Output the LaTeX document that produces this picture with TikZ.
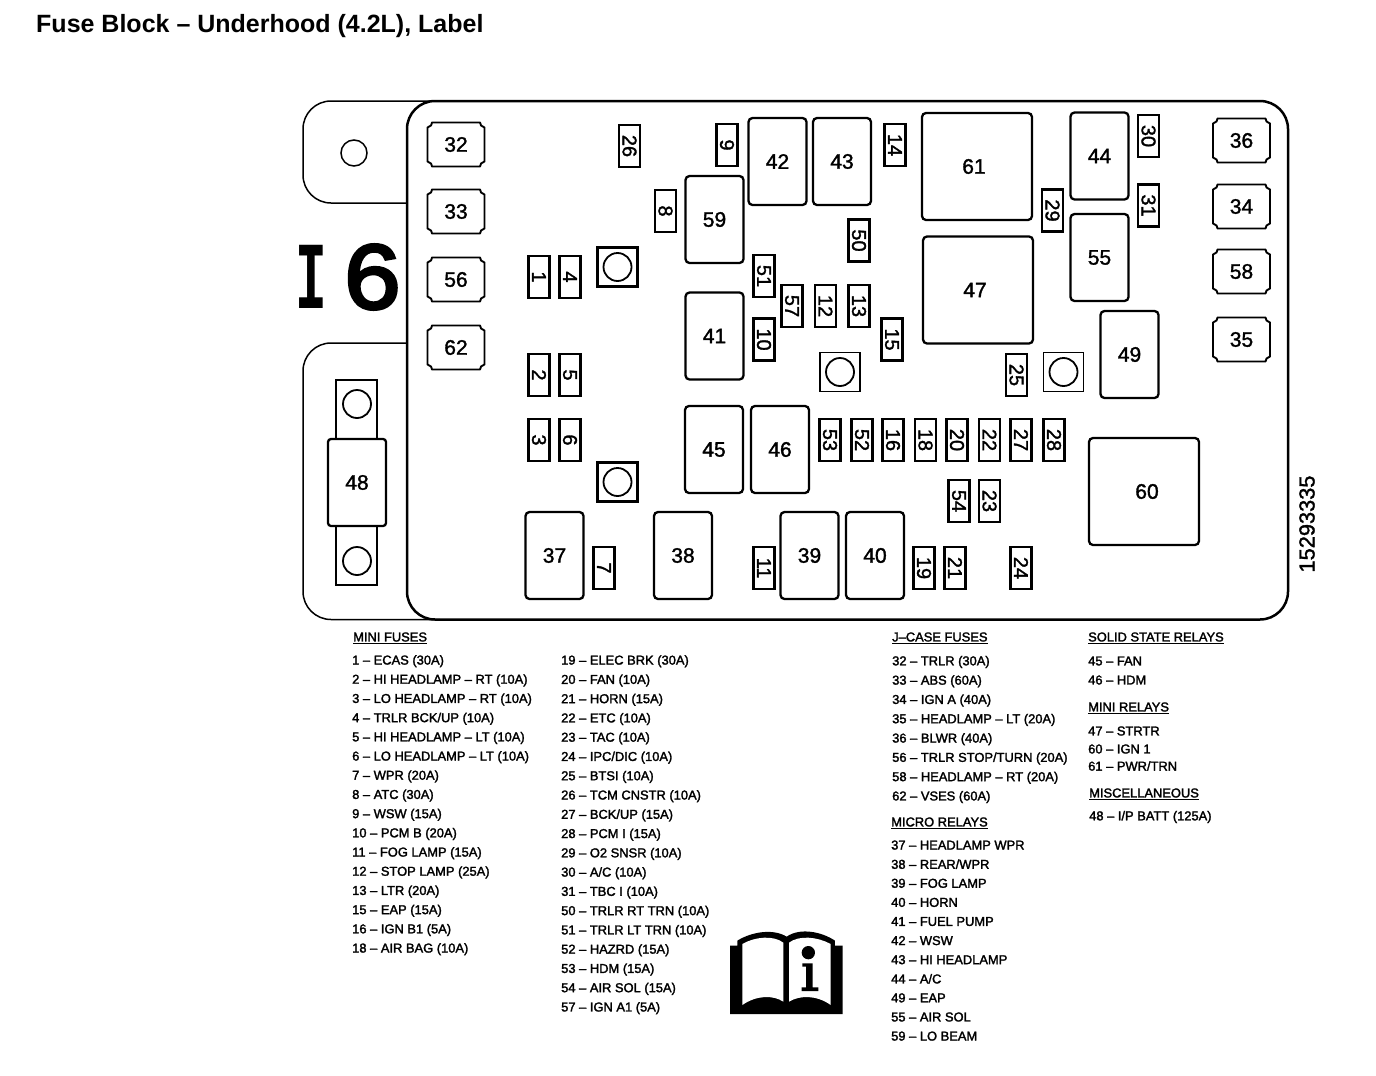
\documentclass[tikz,border=0pt]{standalone}
\usepackage{fontspec}
\usepackage{graphicx}
\setmainfont{Liberation Sans}
\newfontfamily\legendfont{Liberation Sans}[FakeBold=2]
\newfontfamily\numfont{Liberation Sans}[FakeBold=1.5]
\newfontfamily\bigfont{Liberation Mono}[FakeBold=3]
\newfontfamily\bigserif{Liberation Mono Bold}
\tikzset{
    fusebox/.style={draw, line width=2.3pt, minimum width=21pt, minimum height=42pt, inner sep=0pt, font=\fontsize{20}{20}\numfont},
    relaybox/.style={draw, line width=2.3pt, rounded corners=4pt, minimum width=58pt, minimum height=87pt, inner sep=0pt, font=\fontsize{21}{21}\numfont},
    bigrelay/.style={relaybox, minimum width=110pt, minimum height=107pt},
    jcasebox/.style={inner sep=0pt, font=\fontsize{21}{21}\numfont},
    mountbox/.style={draw, line width=3pt, minimum width=40pt, minimum height=39pt, inner sep=0pt},
    holecircle/.style={draw, circle, line width=1.8pt, minimum size=28pt, inner sep=0pt},
    legendtext/.style={anchor=west, inner sep=0pt, font=\fontsize{12.9}{12.9}\legendfont},
}
\begin{document}
\begin{tikzpicture}[x=1pt, y=-1pt]
    \useasboundingbox (0,0) rectangle (1376,1076);

    % Title
    \node [anchor=west, inner sep=0pt, font=\fontsize{25}{25}\selectfont\bfseries] (title) at (36,26) {Fuse Block – Underhood (4.2L), Label};

    % Tabs
    \draw [line width=1.5pt, rounded corners=28pt] (407,203) -- (303,203) -- (303,101) -- (440,101);
    \draw [line width=1.5pt, rounded corners=28pt] (407,343) -- (303,343) -- (303,619.5) -- (440,619.5);

    % Block
    \draw [line width=2.5pt, rounded corners=28pt] (407,101) rectangle (1288,619.5);
    \node [holecircle, line width=1.5pt, minimum size=26pt] (tabhole) at (354,153) {};

    % Vehicle code
    \node [inner sep=0pt, anchor=center, font=\fontsize{96}{96}\bigfont] (code) at (349,277) {\scalebox{0.55}[1]{\bigserif I}\hspace{15pt}\scalebox{1.06}[1]{6}};
    \node [rotate=90, inner sep=0pt, font=\fontsize{21.8}{21.8}\numfont] (partno) at (1307,524) {15293335};

    % Large fuse
    \node [draw, line width=2.5pt, minimum width=41pt, minimum height=205pt, inner sep=0pt] (stub) at (356.5,482.5) {};
    \node [holecircle] (holeA) at (357,404) {};
    \node [holecircle] (holeB) at (357,561) {};
    \node [fill=white, relaybox, minimum width=58pt, minimum height=87pt, rounded corners=3pt] (r48) at (357,482.5) {48};

    % J-case fuses
    \foreach \n/\x/\y in {32/456/144.5, 33/456/211.5, 56/456/279.5, 62/456/347.5, 36/1241.5/140.5, 34/1241.5/206.5, 58/1241.5/271.5, 35/1241.5/339.5} {
        \draw [line width=1.9pt, line join=round, shift={(\x,\y)}]
            (-24,-22) -- (24,-22) -- (25,-19) -- (28.5,-17) -- (28.5,17) -- (25,19) -- (24,22) -- (-24,22) -- (-25,19) -- (-28.5,17) -- (-28.5,-17) -- (-25,-19) -- cycle;
        \node [jcasebox] (j\n) at (\x,\y) {\n};
    }

    % Mini fuses
    \foreach \n/\x/\y in {1/539/277, 4/570/277, 2/539/375, 5/570/375, 3/539/440, 6/570/440, 7/604/568, 26/629.5/146, 9/727/145, 8/665.5/211, 14/895/145, 50/859/240.5, 51/764/276, 57/792/306, 12/825.5/306, 13/859/306, 10/764/339.5, 15/892/339.5, 25/1016.5/375, 53/830/440, 52/862/440, 16/893/440, 18/925.5/440, 20/957/440, 22/989.5/440, 27/1021/440, 28/1054/440, 54/959/501, 23/989.5/501, 11/764/568, 19/924/568, 21/955/568, 24/1021/568, 30/1148.5/136, 31/1148.5/205.5, 29/1052.5/210.5} {
        \node [fusebox] (f\n) at (\x,\y) {\rotatebox{-90}{\n}};
    }

    % Relays
    \foreach \n/\x/\y in {42/777.5/161.5, 43/842/161.5, 59/714.5/219.5, 41/714.5/336, 45/714/449.5, 46/780/449.5, 38/683/555.5, 39/809.5/555.5, 40/875/555.5, 37/554.5/555.5, 44/1099.5/156, 55/1099.5/257.5, 49/1129.5/354.5} {
        \node [relaybox] (r\n) at (\x,\y) {\n};
    }
    \foreach \n/\x/\y/\d in {61/977/166.5/-6, 47/978/290/-6, 60/1144/491.5/6} {
        \node [bigrelay] (r\n) at (\x,\y) {\hspace{\d pt}\n};
    }

    % Mounting points
    \foreach \m/\x/\y/\w in {a/617.5/267/3.2, b/617.5/482/3.2, c/840/372/1.9, d/1063.5/372/1.9} {
        \node [mountbox, line width=\w pt] (mount\m) at (\x,\y) {};
        \node [holecircle] (hole\m) at (\x,\y) {};
    }

    % Legend, first column
    \node [legendtext] (minihead) at (353,638) {\underline{MINI FUSES}};
    \foreach \t [count=\i] in {1 – ECAS (30A), 2 – HI HEADLAMP – RT (10A), 3 – LO HEADLAMP – RT (10A), 4 – TRLR BCK/UP (10A), 5 – HI HEADLAMP – LT (10A), 6 – LO HEADLAMP – LT (10A), 7 – WPR (20A), 8 – ATC (30A), 9 – WSW (15A), 10 – PCM B (20A), 11 – FOG LAMP (15A), 12 – STOP LAMP (25A), 13 – LTR (20A), 15 – EAP (15A), 16 – IGN B1 (5A), 18 – AIR BAG (10A)} {
        \node [legendtext] (mini\i) at (352,{642+\i*19.2}) {\t};
    }

    % Legend, second column
    \foreach \t [count=\i] in {19 – ELEC BRK (30A), 20 – FAN (10A), 21 – HORN (15A), 22 – ETC (10A), 23 – TAC (10A), 24 – IPC/DIC (10A), 25 – BTSI (10A), 26 – TCM CNSTR (10A), 27 – BCK/UP (15A), 28 – PCM I (15A), 29 – O2 SNSR (10A), 30 – A/C (10A), 31 – TBC I (10A), 50 – TRLR RT TRN (10A), 51 – TRLR LT TRN (10A), 52 – HAZRD (15A), 53 – HDM (15A), 54 – AIR SOL (15A), 57 – IGN A1 (5A)} {
        \node [legendtext] (more\i) at (561,{642+\i*19.27}) {\t};
    }

    % Legend, third column
    \node [legendtext] (jcasehead) at (892,638) {\underline{J–CASE FUSES}};
    \foreach \t [count=\i] in {32 – TRLR (30A), 33 – ABS (60A), 34 – IGN A (40A), 35 – HEADLAMP – LT (20A), 36 – BLWR (40A), 56 – TRLR STOP/TURN (20A), 58 – HEADLAMP – RT (20A), 62 – VSES (60A)} {
        \node [legendtext] (jcase\i) at (892,{642.7+\i*19.3}) {\t};
    }
    \node [legendtext] (microhead) at (891,823) {\underline{MICRO RELAYS}};
    \foreach \t [count=\i] in {37 – HEADLAMP WPR, 38 – REAR/WPR, 39 – FOG LAMP, 40 – HORN, 41 – FUEL PUMP, 42 – WSW, 43 – HI HEADLAMP, 44 – A/C, 49 – EAP, 55 – AIR SOL, 59 – LO BEAM} {
        \node [legendtext] (micro\i) at (891,{826+\i*19.1}) {\t};
    }

    % Legend, fourth column
    \node [legendtext] (solidhead) at (1088,638) {\underline{SOLID STATE RELAYS}};
    \node [legendtext] (solidA) at (1088,661) {45 – FAN};
    \node [legendtext] (solidB) at (1088,680) {46 – HDM};
    \node [legendtext] (relayhead) at (1088,708) {\underline{MINI RELAYS}};
    \node [legendtext] (relayA) at (1088,731) {47 – STRTR};
    \node [legendtext] (relayB) at (1088,749) {60 – IGN 1};
    \node [legendtext] (relayC) at (1088,766) {61 – PWR/TRN};
    \node [legendtext] (mischead) at (1089,794) {\underline{MISCELLANEOUS}};
    \node [legendtext] (miscA) at (1089,817) {48 – I/P BATT (125A)};

    % Book
    \begin{scope}[shift={(720,920)}, x=0.3333pt, y=-0.3333pt]
        \fill (30,282) -- (30,77) -- (52,77) -- (52,62) .. controls (95,35) and (160,25) .. (200,50) .. controls (240,22) and (305,35) .. (345,62) -- (345,77) -- (368,77) -- (368,282) -- cycle;
        \fill [white] (67,255) -- (67,72) .. controls (105,50) and (160,45) .. (190,68) -- (190,245) .. controls (160,225) and (110,225) .. (67,255) -- cycle;
        \fill [white] (207,68) .. controls (237,45) and (292,50) .. (332,72) -- (332,255) .. controls (290,225) and (240,225) .. (207,245) -- cycle;
        \fill (265,98) circle[radius=20];
        \fill (247,130) -- (278,130) -- (278,202) -- (295,202) -- (295,213) -- (245,213) -- (245,202) -- (258,202) -- (258,140) -- (247,140) -- cycle;
    \end{scope}
\end{tikzpicture}
\end{document}
